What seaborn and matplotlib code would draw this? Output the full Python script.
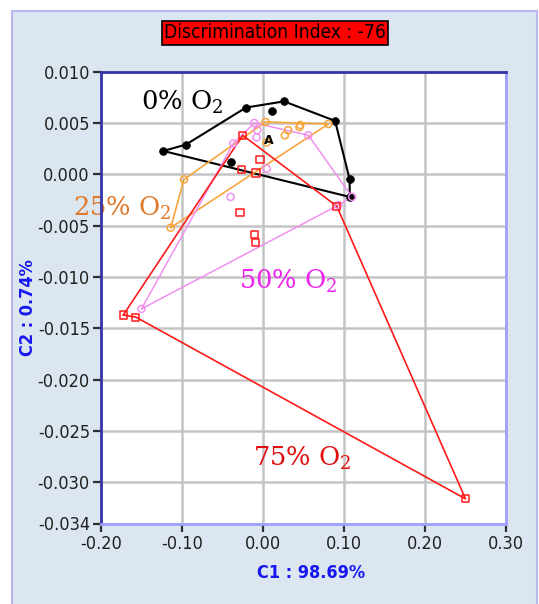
import numpy as np
import pandas as pd
import matplotlib
matplotlib.use("Agg")
import matplotlib.pyplot as plt
from matplotlib.patches import Rectangle
from matplotlib import font_manager
from matplotlib.font_manager import FontProperties
import seaborn as sns

# ---------------- data ----------------
x0 = [-0.123, -0.095, -0.021, 0.0115, 0.026, 0.089, 0.107, 0.107, -0.0395]
y0 = [0.00227, 0.0029, 0.0065, 0.0062, 0.0071, 0.0052, -0.0005, -0.0022, 0.0012]
hull0 = [0, 1, 2, 4, 5, 6, 7]

x25 = [-0.114, -0.0975, 0.003, 0.0807, 0.027, 0.031, 0.045, 0.046, 0.0045]
y25 = [-0.0052, -0.0005, 0.0051, 0.0049, 0.0038, 0.0043, 0.0046, 0.0048, 0.0031]
hull25 = [0, 1, 2, 3]

x50 = [-0.150, -0.0367, -0.0107, 0.056, 0.110, 0.093, -0.040, -0.007, 0.0045, -0.008]
y50 = [-0.0131, 0.0030, 0.0050, 0.0038, -0.0022, -0.0030, -0.0022, 0.0043, 0.00055, 0.0036]
hull50 = [0, 1, 2, 3, 4, 5]

x75 = [-0.1725, -0.025, 0.091, 0.250, -0.157, -0.0037, -0.0263, -0.0086, -0.0284, -0.0107, -0.009]
y75 = [-0.0137, 0.0038, -0.0031, -0.0316, -0.0139, 0.00146, 0.0005, 0.00013, -0.0037, -0.00587, -0.00665]
hull75 = [0, 1, 2, 3, 4]

group_labels = ["0% O$_2$", "25% O$_2$", "50% O$_2$", "75% O$_2$"]
xticks = [-0.20, -0.10, 0.00, 0.10, 0.20, 0.30]
xtick_labels = ["-0.20", "-0.10", "0.00", "0.10", "0.20", "0.30"]
yticks = [0.010, 0.005, 0.000, -0.005, -0.010, -0.015, -0.020, -0.025, -0.030, -0.034]
ytick_labels = ["0.010", "0.005", "0.000", "-0.005", "-0.010", "-0.015", "-0.020", "-0.025", "-0.030", "-0.034"]
title = "Discrimination Index : -76"
xlabel = "C1 : 98.69%"
ylabel = "C2 : 0.74%"
centroid_label = "A"

# ---------------- style ----------------
sns.set_theme(style="white")
plt.rcParams["font.family"] = ["Liberation Sans", "DejaVu Sans"]
plt.rcParams["mathtext.fontset"] = "dejavuserif"


def find_font(bold):
    best = None
    for f in font_manager.fontManager.ttflist:
        fn = f.fname.lower()
        if "italic" in fn or "oblique" in fn:
            continue
        isbold = ("bold" in fn) or (f.weight in ("bold", 700) or (isinstance(f.weight, int) and f.weight >= 600))
        if isbold != bold:
            continue
        rank = None
        key = fn.replace("-", "").replace("_", "")
        if "liberationsansnarrow" in key:
            rank = 0
        elif "dejavusanscondensed" in key:
            rank = 1
        elif ("condensed" in fn or "narrow" in fn) and "serif" not in fn and "mono" not in fn:
            rank = 2
        if rank is not None and (best is None or rank < best[0]):
            best = (rank, f.fname)
    return best[1] if best else None


reg_path = find_font(False)
bold_path = find_font(True)


def fp(size, bold=False):
    path = bold_path if bold else reg_path
    if path:
        return FontProperties(fname=path, size=size)
    return FontProperties(family="Liberation Sans", size=size * 0.9,
                          weight="bold" if bold else "normal")


W, H = 539, 604
fig = plt.figure(figsize=(W / 100, H / 100), dpi=100, facecolor="white")
frame = Rectangle((12 / W, -0.02), (537 - 12) / W, (604 - 11) / H + 0.02,
                  transform=fig.transFigure, facecolor="#dce6f1",
                  edgecolor="#b8b8f0", lw=1.5, zorder=-10)
fig.patches.append(frame)

L, R, T, B = 101, 506, 71.6, 523.5
ax = fig.add_axes([L / W, 1 - B / H, (R - L) / W, (B - T) / H])
ax.set_zorder(1)
ax.set_facecolor("white")
ax.set_xlim(-0.20, 0.30)
ax.set_ylim(-0.034, 0.010)

groups = [
    (x0, y0, hull0, "black", "o", True, 1.5, "black"),
    (x25, y25, hull25, "#f6a53c", "o", False, 1.2, "#e0782a"),
    (x50, y50, hull50, "#f090f0", "o", False, 1.1, "#ee22ee"),
    (x75, y75, hull75, "#ff1a1a", "s", False, 1.2, "#e01010"),
]

for gx, gy, hull, col, mk, filled, lw, _ in groups:
    idx = list(hull) + [hull[0]]
    hx = [gx[i] for i in idx]
    hy = [gy[i] for i in idx]
    df_h = pd.DataFrame({"x": hx, "y": hy})
    sns.lineplot(data=df_h, x="x", y="y", sort=False, estimator=None, color=col,
                 lw=lw, ax=ax, zorder=3)
    df_p = pd.DataFrame({"x": gx, "y": gy})
    if filled:
        sns.scatterplot(data=df_p, x="x", y="y", marker=mk, s=32, color=col,
                        edgecolor=col, ax=ax, zorder=4)
    else:
        sns.scatterplot(data=df_p, x="x", y="y", marker=mk, s=26, facecolors="none",
                        edgecolor=col, linewidth=1.1, ax=ax, zorder=4)

ax.text(0.0075, 0.0033, centroid_label, ha="center", va="center", fontsize=9,
        fontweight="bold", color="black", zorder=6, family="DejaVu Sans")

label_pos = [(-0.1506, 0.0063), (-0.2346, -0.0040), (-0.0296, -0.0111), (-0.0123, -0.0284)]
for (gx, gy, hull, col, mk, filled, lw, tcol), lab, (lx, ly) in zip(groups, group_labels, label_pos):
    ax.text(lx, ly, lab, ha="left", va="baseline", fontsize=18.5, color=tcol,
            family="DejaVu Serif", zorder=7, clip_on=False)

ax.set_xticks(xticks)
ax.set_xticklabels(xtick_labels, fontproperties=fp(13))
ax.set_yticks(yticks)
ax.set_yticklabels(ytick_labels, fontproperties=fp(13))
ax.set_xlabel("")
ax.set_ylabel("")
ax.grid(True, color="#c4c4c4", lw=1.8, zorder=0)
ax.set_axisbelow(True)
ax.tick_params(axis="both", which="both", direction="out", length=6, width=1.6,
               color="#303030", labelcolor="#202020", pad=2,
               left=True, bottom=True)

for s in ["left", "top"]:
    ax.spines[s].set_color("#3535a8")
    ax.spines[s].set_linewidth(2)
for s in ["right", "bottom"]:
    ax.spines[s].set_color("#a0a0ff")
    ax.spines[s].set_linewidth(2)
for s in ax.spines.values():
    s.set_visible(True)
    s.set_zorder(8)

fig.text(275 / W, 1 - 33 / H, title, ha="center", va="center", fontproperties=fp(13.8),
         color="black",
         bbox=dict(facecolor="#ff0000", edgecolor="black", boxstyle="square,pad=0.12", lw=1.2))
fig.text(311 / W, 1 - 573 / H, xlabel, ha="center", va="center", fontproperties=fp(13, True),
         color="#1616f0")
fig.text(28 / W, 1 - 308 / H, ylabel, ha="center", va="center", fontproperties=fp(13, True),
         color="#1616f0", rotation=90)

fig.savefig("out.png", dpi=100, facecolor="white")
